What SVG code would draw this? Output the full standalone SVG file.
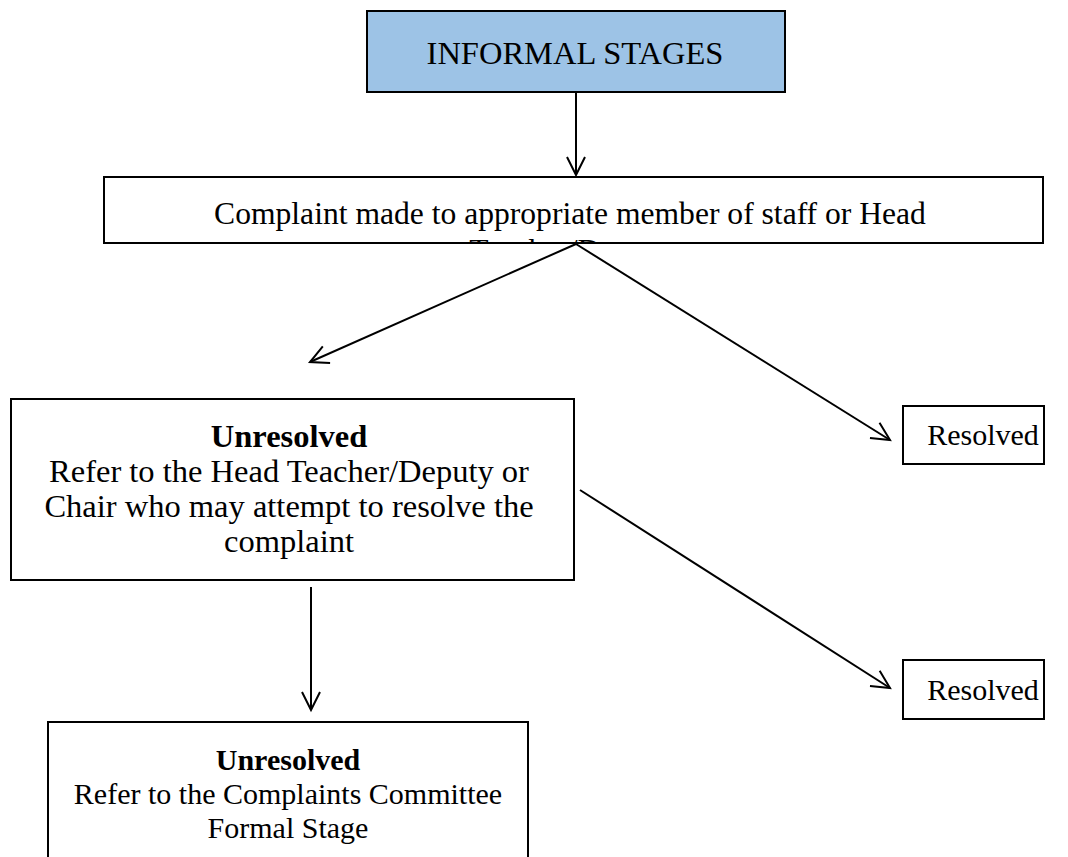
<svg xmlns="http://www.w3.org/2000/svg" width="1068" height="857" viewBox="0 0 1068 857">
<style>
.box{fill:#ffffff;stroke:#000;stroke-width:2}
.t{font-family:"Liberation Serif","Times New Roman",serif;font-size:30px;fill:#000;text-anchor:middle}
.b{font-weight:bold}
.c{stroke:#000;stroke-width:2;fill:none}
.s32{font-size:32.5px}
.s325{font-size:32.5px}
.s33{font-size:31.6px}
</style>
<defs>
<marker id="v" markerUnits="userSpaceOnUse" markerWidth="24" markerHeight="24" viewBox="0 0 24 24" refX="20" refY="12" orient="auto">
<path d="M2,3 L20,12 L2,21" fill="none" stroke="#000" stroke-width="2"/>
</marker>
<clipPath id="clip2"><rect x="105" y="178" width="937" height="64"/></clipPath>
</defs>
<rect width="1068" height="857" fill="#ffffff"/>
<g id="connectors">
<line class="c" x1="576" y1="92" x2="576" y2="175" marker-end="url(#v)"/>
<line class="c" x1="576" y1="244" x2="310" y2="362" marker-end="url(#v)"/>
<line class="c" x1="576" y1="244" x2="890" y2="440" marker-end="url(#v)"/>
<line class="c" x1="580" y1="490" x2="890" y2="688" marker-end="url(#v)"/>
<line class="c" x1="311" y1="587" x2="311" y2="710" marker-end="url(#v)"/>
</g>
<g id="informal">
<rect x="367" y="11" width="418" height="81" fill="#9dc3e6" stroke="#000" stroke-width="2"/>
<text class="t s325" x="575" y="64">INFORMAL STAGES</text>
</g>
<g id="complaint">
<rect class="box" x="104" y="177" width="939" height="66"/>
<g clip-path="url(#clip2)">
<text class="t s33" x="570" y="224">Complaint made to appropriate member of staff or Head</text>
<text class="t s33" x="570" y="261">Teacher/Deputy</text>
</g>
</g>
<g id="unresolved1">
<rect class="box" x="11" y="399" width="563" height="181"/>
<text class="t b s32" x="289" y="447">Unresolved</text>
<text class="t s32" x="289" y="482">Refer to the Head Teacher/Deputy or</text>
<text class="t s32" x="289" y="517">Chair who may attempt to resolve the</text>
<text class="t s32" x="289" y="552">complaint</text>
</g>
<g id="resolved1">
<rect class="box" x="903" y="406" width="141" height="58"/>
<text class="t" x="983" y="445">Resolved</text>
</g>
<g id="resolved2">
<rect class="box" x="903" y="660" width="141" height="59"/>
<text class="t" x="983" y="700">Resolved</text>
</g>
<g id="unresolved2">
<rect class="box" x="48" y="722" width="480" height="150"/>
<text class="t b" x="288" y="770">Unresolved</text>
<text class="t" x="288" y="804">Refer to the Complaints Committee</text>
<text class="t" x="288" y="838">Formal Stage</text>
</g>
</svg>
